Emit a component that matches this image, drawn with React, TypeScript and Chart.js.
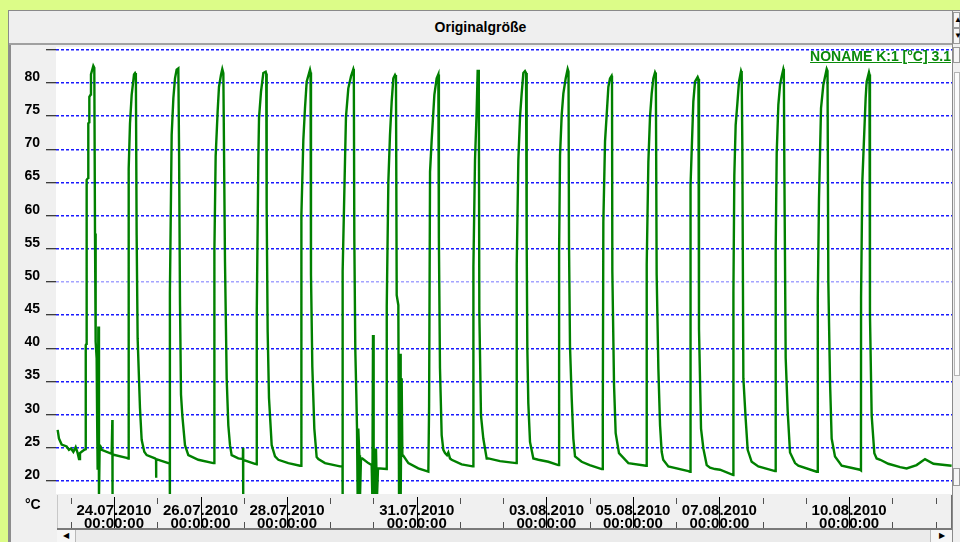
import React, { useEffect, useRef } from 'react';
import { Chart, registerables } from 'chart.js';

Chart.register(...registerables);

// ---- data ----
const titleText = 'Originalgröße';
const seriesName = 'NONAME K:1 [°C] 3.1';
const unitLabel = '°C';

// y ticks (°C); the top one (85) carries a tick mark but no label
const yTicks = [20, 25, 30, 35, 40, 45, 50, 55, 60, 65, 70, 75, 80, 85];
// x ticks: days since 23.07.2010 00:00
const dayTicks = [0, 1, 2, 3, 4, 5, 6, 7, 8, 9, 10, 11, 12, 13, 14, 15, 16, 17, 18, 19, 20];
const labelledDays = [1, 3, 5, 8, 11, 13, 15, 18];
const dateLabels = ['24.07.2010', '26.07.2010', '28.07.2010', '31.07.2010', '03.08.2010', '05.08.2010', '07.08.2010', '10.08.2010'];
const timeLabel = '00:00:00';

const xMin = -0.342;
const xMax = 20.379;
const yMin = 18.04;
const yMax = 85.43;

// [days since 23.07.2010 00:00, temperature °C]
const samples: [number, number][] = [
  [-0.304, 27.7], [-0.273, 26.4], [-0.211, 25.5], [-0.096, 25.2], [-0.042, 24.7], [0.005, 24.9], [0.059, 24.4], [0.113, 25.1], [0.159, 24.2], [0.19, 23.3], [0.213, 24.2], [0.251, 24.4], [0.313, 24.7], [0.344, 24.8],
  [0.346, 40.5], [0.365, 40.7], [0.367, 65.4], [0.403, 65.7], [0.405, 73.9], [0.427, 74.1], [0.429, 77.9], [0.465, 78.3], [0.467, 81.3], [0.521, 82.6], [0.544, 82.3], [0.56, 57.3], [0.575, 41.0], [0.598, 38.5], [0.61, 28.9], [0.621, 21.7], [0.637, 43.3], [0.652, 17.5], [0.668, 25.4], [0.691, 25.2], [0.714, 24.7], [0.945, 24.1], [0.961, 29.2], [0.963, 17.5], [0.968, 24.0], [1.292, 23.5], [1.33, 23.4],
  [1.332, 49.0], [1.346, 67.1], [1.369, 73.9], [1.408, 78.2], [1.462, 81.3], [1.485, 81.5], [1.505, 81.2], [1.523, 57.1], [1.546, 41.5], [1.6, 31.0], [1.639, 26.2], [1.7, 24.4], [1.755, 23.9], [1.947, 23.4], [1.972, 23.3], [1.974, 20.5], [1.976, 23.3], [2.256, 22.7], [2.287, 22.6],
  [2.29, 17.5], [2.294, 48.3], [2.333, 72.2], [2.372, 77.7], [2.41, 80.7], [2.448, 82.0], [2.487, 82.2], [2.503, 70.7], [2.526, 46.5], [2.549, 33.0], [2.579, 29.9], [2.641, 25.4], [2.718, 23.9], [2.949, 23.2], [3.296, 22.7], [3.319, 22.7],
  [3.321, 54.6], [3.35, 68.9], [3.396, 75.7], [3.427, 79.4], [3.473, 81.2], [3.504, 82.1], [3.528, 81.5], [3.566, 53.1], [3.605, 35.5], [3.643, 28.4], [3.682, 25.4], [3.72, 23.9], [3.874, 23.4], [3.98, 23.3], [3.983, 25.0], [3.986, 17.5], [3.989, 23.2], [4.26, 22.6], [4.299, 22.5],
  [4.301, 45.5], [4.337, 68.4], [4.353, 74.7], [4.399, 78.7], [4.453, 81.5], [4.507, 81.7], [4.52, 81.4], [4.53, 61.1], [4.553, 42.5], [4.584, 32.5], [4.646, 25.4], [4.723, 23.7], [4.8, 23.2], [5.031, 22.7], [5.301, 22.3], [5.324, 22.3],
  [5.326, 31.2], [5.34, 60.1], [5.378, 71.4], [5.416, 76.2], [5.455, 80.2], [5.532, 82.0], [5.545, 81.6], [5.555, 51.1], [5.586, 37.2], [5.632, 27.9], [5.686, 23.6], [5.725, 23.3], [5.879, 22.7], [6.226, 22.2], [6.264, 22.2],
  [6.284, 22.2], [6.286, 17.5], [6.288, 51.6], [6.341, 68.1], [6.364, 74.9], [6.418, 79.2], [6.48, 81.0], [6.534, 82.1], [6.545, 81.8], [6.557, 56.6], [6.58, 39.7], [6.603, 33.2], [6.619, 27.9], [6.634, 17.5], [6.649, 27.9], [6.673, 23.9], [6.688, 17.5], [6.711, 23.4], [6.742, 23.4], [6.881, 22.7], [6.958, 22.4], [6.974, 17.5], [6.989, 42.0], [7.004, 17.5], [7.02, 24.9], [7.035, 17.5], [7.058, 24.9], [7.081, 17.5], [7.105, 21.9], [7.305, 21.8],
  [7.307, 46.3], [7.344, 65.1], [7.382, 72.2], [7.421, 77.2], [7.459, 80.7], [7.498, 81.2], [7.52, 80.9], [7.537, 48.0], [7.575, 46.5], [7.591, 17.5], [7.614, 39.2], [7.629, 17.5], [7.652, 35.5], [7.668, 23.8], [7.691, 23.8], [7.807, 22.7], [8.037, 21.9], [8.269, 21.4], [8.284, 21.4],
  [8.286, 31.2], [8.308, 66.6], [8.346, 71.4], [8.408, 78.2], [8.461, 80.7], [8.5, 81.3], [8.51, 81.0], [8.515, 56.6], [8.538, 37.0], [8.577, 26.9], [8.616, 24.7], [8.654, 24.2], [8.7, 23.9], [8.731, 24.3], [8.77, 23.4], [8.808, 23.2], [9.039, 22.5], [9.294, 22.2], [9.309, 22.2],
  [9.311, 52.3], [9.348, 68.4], [9.386, 75.7], [9.41, 82.0], [9.42, 76.0], [9.43, 82.0], [9.44, 81.8], [9.448, 45.5], [9.486, 29.9], [9.54, 26.4], [9.618, 23.4], [9.656, 23.4], [9.926, 23.0], [10.3, 22.7], [10.312, 22.7],
  [10.314, 52.6], [10.35, 68.4], [10.389, 74.9], [10.427, 78.4], [10.466, 81.5], [10.504, 81.8], [10.528, 81.5], [10.543, 56.1], [10.558, 40.0], [10.581, 31.7], [10.62, 25.9], [10.697, 23.4], [10.813, 23.2], [11.044, 22.9], [11.275, 22.4], [11.291, 22.4],
  [11.293, 54.8], [11.314, 69.1], [11.353, 75.2], [11.391, 78.4], [11.445, 80.7], [11.491, 82.1], [11.51, 81.7], [11.522, 55.6], [11.545, 40.3], [11.584, 32.5], [11.622, 26.4], [11.661, 23.7], [11.815, 22.9], [12.0, 22.4], [12.278, 21.8], [12.301, 21.8],
  [12.303, 29.9], [12.316, 59.1], [12.355, 71.2], [12.393, 75.2], [12.432, 79.4], [12.47, 80.7], [12.508, 81.1], [12.516, 80.8], [12.524, 51.6], [12.563, 34.5], [12.601, 27.2], [12.678, 24.2], [12.894, 22.7], [13.303, 22.3], [13.318, 22.3],
  [13.32, 52.6], [13.357, 68.1], [13.395, 74.9], [13.434, 78.4], [13.472, 80.7], [13.511, 81.6], [13.53, 81.3], [13.549, 51.1], [13.588, 37.0], [13.627, 28.4], [13.665, 24.4], [13.7, 23.2], [13.819, 22.2], [14.282, 21.5], [14.32, 21.4],
  [14.322, 44.0], [14.343, 64.6], [14.397, 77.2], [14.436, 80.2], [14.497, 80.9], [14.515, 80.6], [14.528, 42.9], [14.575, 27.9], [14.629, 24.9], [14.706, 22.4], [14.783, 22.0], [14.898, 21.8], [15.014, 21.7], [15.322, 20.9],
  [15.324, 48.5], [15.345, 66.1], [15.376, 73.7], [15.415, 76.9], [15.453, 80.2], [15.5, 81.8], [15.515, 81.5], [15.53, 70.7], [15.554, 35.5], [15.607, 29.4], [15.654, 24.7], [15.746, 22.9], [15.9, 22.2], [16.286, 21.5], [16.301, 21.5],
  [16.303, 55.1], [16.325, 69.4], [16.363, 76.7], [16.402, 79.7], [16.44, 81.0], [16.479, 82.1], [16.49, 81.8], [16.502, 67.1], [16.533, 38.5], [16.579, 30.5], [16.633, 24.3], [16.749, 22.7], [16.825, 22.3], [17.249, 21.4], [17.273, 21.4],
  [17.275, 47.5], [17.303, 62.6], [17.35, 76.2], [17.403, 79.7], [17.481, 82.1], [17.5, 81.8], [17.519, 50.0], [17.558, 35.0], [17.596, 26.4], [17.673, 23.7], [17.828, 22.3], [18.251, 21.7], [18.274, 21.6],
  [18.276, 47.5], [18.305, 65.1], [18.343, 71.4], [18.382, 77.7], [18.405, 80.2], [18.459, 81.6], [18.47, 81.3], [18.482, 45.0], [18.521, 29.9], [18.583, 24.2], [18.636, 23.4], [18.72, 23.2], [18.906, 22.6], [19.18, 22.1], [19.33, 21.9], [19.56, 22.4], [19.755, 23.3], [19.95, 22.6], [20.37, 22.3],
];

// ---- styling ----
const LIME = '#dcfc88';
const PANEL = '#f0f0f0';
const LINE_GREEN = '#008000';
const FONT = '"Liberation Sans", Arial, sans-serif';

export default function App() {
  const canvasRef = useRef<HTMLCanvasElement | null>(null);

  useEffect(() => {
    const canvas = canvasRef.current;
    if (!canvas) return;

    const backgroundPlugin = {
      id: 'panelBackground',
      beforeDraw(chart: any) {
        const { ctx, chartArea, width, height } = chart;
        ctx.save();
        ctx.fillStyle = PANEL;
        ctx.fillRect(0, 0, width, height);
        ctx.fillStyle = '#ffffff';
        ctx.fillRect(chartArea.left, chartArea.top, chartArea.right - chartArea.left, chartArea.bottom - chartArea.top);
        ctx.restore();
      },
    };

    const xMarksPlugin = {
      id: 'xTickMarks',
      afterDraw(chart: any) {
        const { ctx, chartArea } = chart;
        const xs = chart.scales.x;
        const b = chartArea.bottom;
        ctx.save();
        ctx.lineWidth = 1;
        for (const d of dayTicks) {
          const px = Math.round(xs.getPixelForValue(d)) + 0.5;
          const major = labelledDays.includes(d);
          ctx.beginPath();
          if (major) {
            ctx.strokeStyle = '#000000';
            ctx.moveTo(px, b + 3);
            ctx.lineTo(px, b + 34);
          } else {
            ctx.strokeStyle = '#505050';
            ctx.moveTo(px, b + 4);
            ctx.lineTo(px, b + 10);
            ctx.moveTo(px, b + 28);
            ctx.lineTo(px, b + 34);
          }
          ctx.stroke();
        }
        ctx.restore();
      },
    };

    const chart = new Chart(canvas, {
      type: 'line',
      data: {
        datasets: [
          {
            label: seriesName,
            data: samples.map(([x, y]) => ({ x, y })),
            borderColor: LINE_GREEN,
            backgroundColor: LINE_GREEN,
            borderWidth: 2.4,
            pointRadius: 0,
            tension: 0,
            fill: false,
            clip: 0,
          },
        ],
      },
      options: {
        animation: false,
        responsive: false,
        maintainAspectRatio: false,
        devicePixelRatio: 1,
        events: [],
        layout: { padding: { top: 1, left: 0, right: 0, bottom: 0 } },
        plugins: { legend: { display: false }, tooltip: { enabled: false }, title: { display: false } },
        scales: {
          x: {
            type: 'linear',
            min: xMin,
            max: xMax,
            afterBuildTicks: (s: any) => {
              s.ticks = dayTicks.map((v) => ({ value: v }));
            },
            afterFit: (s: any) => {
              s.height = 38;
              s.paddingLeft = 0;
              s.paddingRight = 0;
            },
            grid: { display: false, drawTicks: false },
            border: { display: false },
            ticks: {
              autoSkip: false,
              maxRotation: 0,
              minRotation: 0,
              padding: 10,
              color: '#000000',
              font: { family: FONT, size: 15, weight: 'bold', lineHeight: '13px' },
              callback: (v: any) => {
                const i = labelledDays.indexOf(Number(v));
                return i >= 0 ? [dateLabels[i], timeLabel] : '';
              },
            },
          },
          y: {
            type: 'linear',
            min: yMin,
            max: yMax,
            afterBuildTicks: (s: any) => {
              s.ticks = yTicks.map((v) => ({ value: v }));
            },
            afterFit: (s: any) => {
              s.width = 45;
              s.paddingTop = 0;
              s.paddingBottom = 0;
            },
            grid: {
              color: (c: any) => (c.tick && c.tick.value === 50 ? '#a4a4ff' : '#1a1aff'),
              lineWidth: 1.5,
              drawTicks: true,
              tickLength: 10,
              tickColor: '#000000',
              tickWidth: 1,
            },
            border: { display: false, dash: [3, 2] },
            ticks: {
              padding: 6,
              labelOffset: -6,
              color: '#000000',
              font: { family: FONT, size: 14, weight: 'bold' },
              callback: (v: any) => (Number(v) === 85 ? '' : String(v)),
            },
          },
        },
      } as any,
      plugins: [backgroundPlugin, xMarksPlugin],
    });

    return () => chart.destroy();
  }, []);

  const abs = (s: React.CSSProperties): React.CSSProperties => ({ position: 'absolute', boxSizing: 'border-box', ...s });

  return (
    <div style={{ position: 'fixed', inset: 0, background: LIME, overflow: 'hidden', fontFamily: FONT }}>
      {/* window frame */}
      <div style={abs({ left: 8, top: 10, width: 960, height: 540, background: PANEL, borderTop: '1px solid #8a8a8a', borderLeft: '1px solid #8a8a8a' })} />
      {/* title bar */}
      <div style={abs({ left: 9, top: 11, width: 943, height: 32, background: '#efefef', textAlign: 'center', font: `bold 14px ${FONT}`, lineHeight: '32px', color: '#000' })}>
        {titleText}
      </div>
      <div style={abs({ left: 9, top: 43, width: 951, height: 2, background: '#a0a0a0' })} />
      {/* left dark strip */}
      <div style={abs({ left: 8, top: 45, width: 3, height: 497, background: '#8c8c8c' })} />

      <canvas ref={canvasRef} width={941} height={486} style={{ position: 'absolute', left: 11, top: 46, width: 941, height: 486 }} />

      {/* unit label */}
      <div style={abs({ left: 25, top: 496, font: `bold 14px ${FONT}`, lineHeight: '16px', color: '#000' })}>{unitLabel}</div>

      {/* series name (legend) */}
      <div style={abs({ right: 9, top: 48, font: `bold 14px ${FONT}`, lineHeight: '16px', color: '#0a8a0a', textDecoration: 'underline', whiteSpace: 'nowrap' })}>
        {seriesName}
      </div>

      {/* x panel borders */}
      <div style={abs({ left: 57, top: 495, width: 1, height: 34, background: '#c8c8c8' })} />
      <div style={abs({ left: 951, top: 495, width: 1, height: 34, background: '#707070' })} />
      <div style={abs({ left: 57, top: 528, width: 895, height: 2, background: '#7a7a7a' })} />

      {/* bottom scrollbar */}
      <div style={abs({ left: 57, top: 530, width: 895, height: 12, background: '#ebebeb' })} />
      <div style={abs({ left: 57, top: 530, width: 19, height: 12, background: '#f6f6f6', borderRight: '1px solid #b8b8b8', fontSize: 8, lineHeight: '12px', textAlign: 'center', color: '#000' })}>◀</div>
      <div style={abs({ left: 930, top: 530, width: 22, height: 12, background: '#f6f6f6', borderLeft: '1px solid #b8b8b8', fontSize: 8, lineHeight: '12px', textAlign: 'center', color: '#000' })}>▶</div>

      {/* right side strip */}
      <div style={abs({ left: 952, top: 11, width: 8, height: 531, background: PANEL, borderLeft: '1px solid #8a8a8a' })} />
      <div style={abs({ left: 953, top: 12, width: 7, height: 16, background: '#f6f6f6', border: '1px solid #9a9a9a', fontSize: 8, lineHeight: '14px', color: '#000' })}>▲</div>
      <div style={abs({ left: 953, top: 28, width: 7, height: 16, background: '#f6f6f6', border: '1px solid #9a9a9a', fontSize: 8, lineHeight: '14px', color: '#000' })}>▼</div>
      <div style={abs({ left: 953, top: 47, width: 7, height: 16, background: '#f6f6f6', border: '1px solid #9a9a9a' })} />
      <div style={abs({ left: 954, top: 72, width: 6, height: 304, background: '#fbfbfb', border: '1px solid #b4b4b4' })} />
      <div style={abs({ left: 953, top: 468, width: 7, height: 18, background: '#f6f6f6', border: '1px solid #9a9a9a' })} />
    </div>
  );
}
